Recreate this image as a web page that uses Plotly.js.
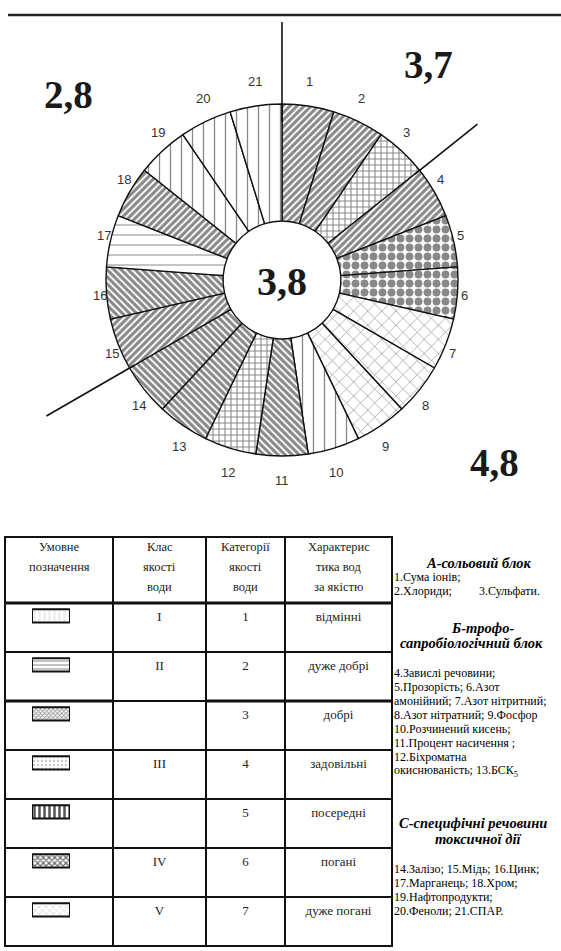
<!DOCTYPE html>
<html><head><meta charset="utf-8">
<script src="https://cdn.plot.ly/plotly-3.0.1.min.js"></script>
<style>html,body{margin:0;padding:0;background:#fff}#chart{width:561px;height:951px}</style>
</head><body><div id="chart"></div>
<script>
// ---------- DATA ----------
const indicators = ['1','2','3','4','5','6','7','8','9','10','11','12','13','14','15','16','17','18','19','20','21'];
const shares = [1,1,1,1,1,1,1,1,1,1,1,1,1,1,1,1,1,1,1,1,1];
// estimated water-quality category of each indicator
const indicatorCategory = [4,4,3, 4,5,5,6,6,6,1,6,3,6, 5,4,4,2,4,1,1,1];
const blockStart = [0, 3, 14];            // slice index where each block's divider is drawn
const blockAverage = ['3,7', '4,8', '2,8'];
const overallAverage = '3,8';

const tableHeader = [['Умовне', 'позначення'], ['Клас', 'якості', 'води'], ['Категорії', 'якості', 'води'], ['Характерис', 'тика вод', 'за якістю']];
const qualityClass = ['I', 'II', '', 'III', '', 'IV', 'V'];
const qualityCategory = ['1', '2', '3', '4', '5', '6', '7'];
const qualityText = ['відмінні', 'дуже добрі', 'добрі', 'задовільні', 'посередні', 'погані', 'дуже погані'];

const legendBlocks = {
  A: {title: ['А-сольовий блок'], lines: ['1.Сума іонів;', '2.Хлориди;&nbsp;&nbsp;&nbsp;&nbsp;&nbsp;&nbsp;&nbsp;&nbsp;&nbsp;3.Сульфати.']},
  B: {title: ['Б-трофо-', 'сапробіологічний блок'], lines: ['4.Завислі речовини;', '5.Прозорість; 6.Азот', 'амонійний; 7.Азот нітритний;', '8.Азот нітратний; 9.Фосфор', '10.Розчинений кисень;', '11.Процент насичення ;', '12.Біхроматна', 'окиснюваність; 13.БСК<sub>5</sub>']},
  C: {title: ['С-специфічні речовини', 'токсичної дії'], lines: ['14.Залізо; 15.Мідь; 16.Цинк;', '17.Марганець; 18.Хром;', '19.Нафтопродукти;', '20.Феноли; 21.СПАР.']}
};

// ---------- STYLE ----------
const slicePattern = ['/','/','+','/','.','.','x','x','x','|','\\','+','\\','\\','/','\\','-','/','|','|','|'];
const patSize = {'/':5, '\\':5, '+':6, '.':9, 'x':10, '|':11, '-':10};
const patSolid = {'/':0.62, '\\':0.62, '+':0.32, '.':0.6, 'x':0.12, '|':0.12, '-':0.1};
const swatchPattern = ['|','-','x','.','|','x','x'];
const swatchSize = [5, 4, 3, 4, 5, 4, 5];
const swatchSolid = [0.5, 0.45, 0.5, 0.3, 0.5, 0.5, 0.3];
const swatchBg = ['#eee','#bbb','#999','#ccc','#555','#666','#ddd'];

const W = 561, H = 951;
const pie = {cx: 282, cy: 280, r: 176, labelRx: 183, labelRy: 201};
const px2x = x => x / W, px2y = y => 1 - y / H;
const serif = 'Liberation Serif';

const table = {x0: 5, top: 537, head: 66, row: 49, cols: [108, 93, 79, 107]};
const rowsTop = table.top + table.head;
const rowsBottom = rowsTop + table.row * qualityCategory.length;

const traces = [
  {
    type: 'pie', values: shares, labels: indicators,
    customdata: indicatorCategory,
    sort: false, direction: 'clockwise', rotation: 0, hole: 0.335,
    textinfo: 'none',
    marker: {
      colors: indicators.map(() => 'white'),
      line: {color: '#111', width: 1.4},
      pattern: {
        shape: slicePattern, fgcolor: '#111', bgcolor: 'white', fillmode: 'overlay',
        size: slicePattern.map(s => patSize[s]), solidity: slicePattern.map(s => patSolid[s])
      }
    },
    domain: {x: [px2x(pie.cx - pie.r), px2x(pie.cx + pie.r)], y: [px2y(pie.cy + pie.r), px2y(pie.cy - pie.r)]},
    hovertemplate: 'Показник %{label}: категорія %{customdata}<extra></extra>'
  },
  {
    type: 'table',
    domain: {x: [px2x(table.x0), px2x(table.x0 + table.cols.reduce((a, b) => a + b, 0))], y: [0, px2y(table.top)]},
    columnwidth: table.cols,
    header: {values: tableHeader.map(() => ' '), align: 'center', height: table.head,
      line: {color: '#111', width: 1.5}, fill: {color: 'rgba(0,0,0,0)'},
      font: {family: serif, size: 13, color: '#222'}},
    cells: {values: [qualityCategory.map(() => ' '), qualityClass.map(v => v || ' '), qualityCategory, qualityText],
      align: 'center', height: table.row,
      line: {color: '#111', width: 1.5}, fill: {color: 'rgba(0,0,0,0)'},
      font: {family: serif, size: 13, color: '#222'}}
  },
  {
    type: 'bar', orientation: 'h', x: qualityCategory.map(() => 1), y: qualityCategory,
    xaxis: 'x2', yaxis: 'y2', width: 0.27, hoverinfo: 'skip',
    marker: {color: swatchBg, line: {color: '#111', width: 2},
      pattern: {shape: swatchPattern, fgcolor: '#111', bgcolor: swatchBg, fillmode: 'replace', size: swatchSize, solidity: swatchSolid}}
  }
];

// divider lines between blocks
const shapes = [];
const dividerR = [[158, 258], [170, 250], [170, 272]];
blockStart.forEach((b, i) => {
  const th = b * 2 * Math.PI / shares.length;
  const [r1, r2] = dividerR[i];
  shapes.push({type: 'line', xref: 'paper', yref: 'paper',
    x0: px2x(pie.cx + r1 * Math.sin(th)), y0: px2y(pie.cy - r1 * Math.cos(th)),
    x1: px2x(pie.cx + r2 * Math.sin(th)), y1: px2y(pie.cy - r2 * Math.cos(th)),
    line: {color: '#111', width: 1.6}});
});
// top rule
shapes.push({type: 'line', xref: 'paper', yref: 'paper', x0: px2x(8), x1: 1, y0: px2y(15), y1: px2y(15), line: {color: '#222', width: 2.5}});
// thick table rules
const colEdges = [table.x0];
table.cols.forEach(w => colEdges.push(colEdges[colEdges.length - 1] + w));
const tRight = colEdges[colEdges.length - 1];
shapes.push({type: 'line', xref: 'paper', yref: 'paper', x0: px2x(table.x0), x1: px2x(tRight), y0: px2y(rowsTop), y1: px2y(rowsTop), line: {color: '#111', width: 3}});
shapes.push({type: 'line', xref: 'paper', yref: 'paper', x0: px2x(colEdges[0]), x1: px2x(colEdges[1]), y0: px2y(rowsTop + 2 * table.row), y1: px2y(rowsTop + 2 * table.row), line: {color: '#111', width: 3}});
shapes.push({type: 'line', xref: 'paper', yref: 'paper', x0: px2x(colEdges[2]), x1: px2x(tRight), y0: px2y(rowsTop + 2 * table.row), y1: px2y(rowsTop + 2 * table.row), line: {color: '#111', width: 3}});

const annotations = [];
// slice number labels around the pie
indicators.forEach((t, i) => {
  const th = (i + 0.5) * 2 * Math.PI / shares.length;
  annotations.push({xref: 'paper', yref: 'paper', x: px2x(pie.cx + pie.labelRx * Math.sin(th)), y: px2y(pie.cy - pie.labelRy * Math.cos(th)),
    xanchor: 'center', yanchor: 'middle', text: t, showarrow: false, font: {family: 'Liberation Sans', size: 13, color: '#333'}});
});
const bigFont = {family: serif, size: 39, color: '#1a1a1a'};
const bigPos = [[428, 64], [494, 462], [68, 94]];
blockAverage.forEach((t, i) => annotations.push({xref: 'paper', yref: 'paper', x: px2x(bigPos[i][0]), y: px2y(bigPos[i][1]), xanchor: 'center', yanchor: 'middle', text: '<b>' + t + '</b>', showarrow: false, font: bigFont}));
annotations.push({xref: 'paper', yref: 'paper', x: px2x(pie.cx), y: px2y(pie.cy + 2), xanchor: 'center', yanchor: 'middle', text: '<b>' + overallAverage + '</b>', showarrow: false, font: {family: serif, size: 40, color: '#1a1a1a'}});

// table header text, one line each
tableHeader.forEach((lines, c) => {
  const xc = (colEdges[c] + colEdges[c + 1]) / 2;
  lines.forEach((t, k) => annotations.push({xref: 'paper', yref: 'paper', x: px2x(xc), y: px2y(table.top + 10 + 20 * k), xanchor: 'center', yanchor: 'middle', text: t, showarrow: false, font: {family: serif, size: 12.5, color: '#222'}}));
});

const lf = {family: serif, size: 12, color: '#000'};
const hf = {family: serif, size: 14.5, color: '#000'};
const lx = 392, lineStep = 14;
function addTitle(t, x, y, anchor) {
  annotations.push({xref: 'paper', yref: 'paper', x: px2x(x), y: px2y(y), xanchor: anchor, yanchor: 'middle', text: '<b><i>' + t + '</i></b>', showarrow: false, font: hf});
}
function addLines(lines, y) {
  lines.forEach((t, k) => annotations.push({xref: 'paper', yref: 'paper', x: px2x(lx), y: px2y(y + lineStep * k), xanchor: 'left', yanchor: 'middle', text: t, showarrow: false, font: lf}));
}
addTitle(legendBlocks.A.title[0], 479, 563, 'center');
addLines(legendBlocks.A.lines, 577);
addTitle(legendBlocks.B.title[0], 482, 628, 'center');
addTitle(legendBlocks.B.title[1], 398, 643, 'left');
addLines(legendBlocks.B.lines, 673);
addTitle(legendBlocks.C.title[0], 397, 823, 'left');
addTitle(legendBlocks.C.title[1], 478, 839, 'center');
addLines(legendBlocks.C.lines, 869);

const layout = {
  width: W, height: H, margin: {l: 0, r: 0, t: 0, b: 0},
  paper_bgcolor: 'white', plot_bgcolor: 'rgba(0,0,0,0)', showlegend: false,
  xaxis2: {domain: [px2x(32), px2x(70)], range: [0, 1], visible: false, anchor: 'y2', fixedrange: true},
  yaxis2: {domain: [px2y(rowsBottom), px2y(rowsTop)], type: 'category', categoryorder: 'array', categoryarray: qualityCategory,
    range: [qualityCategory.length - 0.265, -0.265], visible: false, anchor: 'x2', fixedrange: true},
  shapes: shapes, annotations: annotations
};
Plotly.newPlot('chart', traces, layout, {displayModeBar: false, staticPlot: true});
</script></body></html>
